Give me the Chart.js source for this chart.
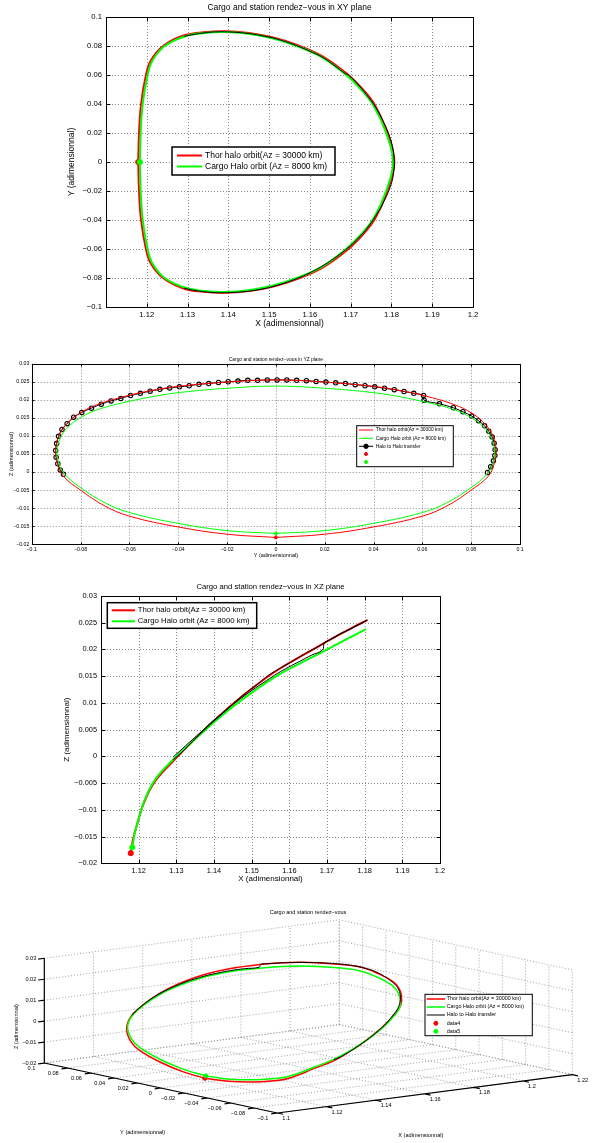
<!DOCTYPE html>
<html>
<head>
<meta charset="utf-8">
<title>Cargo and station rendez-vous</title>
<script src="https://cdn.jsdelivr.net/npm/chart.js@4.4.1/dist/chart.umd.min.js"></script>
<style>
  html, body { margin: 0; padding: 0; background: #fff; }
  body { position: relative; width: 592px; height: 1143px; overflow: hidden; }
  canvas { position: absolute; left: 0; }
</style>
</head>
<body>
<canvas id="xyPlot" width="592" height="334" style="top:0px"></canvas>
<canvas id="yzPlot" width="592" height="230" style="top:334px"></canvas>
<canvas id="xzPlot" width="592" height="322" style="top:564px"></canvas>
<canvas id="view3d" width="592" height="257" style="top:886px"></canvas>
<script>
const FONT = '"Liberation Sans", Arial, Helvetica, sans-serif';
Chart.defaults.font.family = FONT;
Chart.defaults.color = '#000';

// Thor halo orbit (Az = 30000 km), one revolution
const thorX = [1.1179, 1.1181, 1.1186, 1.1198, 1.1210, 1.1240, 1.1290, 1.1340, 1.1390, 1.1450, 1.1510, 1.1570, 1.1630, 1.1690, 1.1730, 1.1760, 1.1790, 1.1807,
  1.1790, 1.1760, 1.1730, 1.1690, 1.1630, 1.1570, 1.1510, 1.1450, 1.1390, 1.1340, 1.1290, 1.1240, 1.1210, 1.1198, 1.1186, 1.1181, 1.1179];
const thorY = [0, 0.0200, 0.0400, 0.0600, 0.0700, 0.0800, 0.0872, 0.0895, 0.0902, 0.0890, 0.0858, 0.0805, 0.0730, 0.0610, 0.0500, 0.0390, 0.0200, 0,
  -0.0200, -0.0390, -0.0500, -0.0610, -0.0730, -0.0805, -0.0858, -0.0890, -0.0902, -0.0895, -0.0872, -0.0800, -0.0700, -0.0600, -0.0400, -0.0200, 0];
const thorZ = [-0.0181, -0.0172, -0.0152, -0.0122, -0.0094, -0.0050, -0.0010, 0.0026, 0.0060, 0.0098, 0.0132, 0.0162, 0.0187, 0.0211, 0.0227, 0.0238, 0.0249, 0.0255,
  0.0249, 0.0238, 0.0227, 0.0211, 0.0187, 0.0162, 0.0132, 0.0098, 0.0060, 0.0026, -0.0010, -0.0050, -0.0094, -0.0122, -0.0152, -0.0172, -0.0181];

// Cargo halo orbit (Az = 8000 km)
const cargoX = [1.1183, 1.1185, 1.1190, 1.1202, 1.1214, 1.1244, 1.1293, 1.1342, 1.1390, 1.1450, 1.1510, 1.1568, 1.1628, 1.1687, 1.1727, 1.1757, 1.1787, 1.1804,
  1.1787, 1.1757, 1.1727, 1.1687, 1.1628, 1.1568, 1.1510, 1.1450, 1.1390, 1.1342, 1.1293, 1.1244, 1.1214, 1.1202, 1.1190, 1.1185, 1.1183];
const cargoY = [0, 0.0200, 0.0400, 0.0600, 0.0700, 0.0800, 0.0866, 0.0890, 0.0896, 0.0884, 0.0852, 0.0800, 0.0725, 0.0605, 0.0495, 0.0385, 0.0200, 0,
  -0.0200, -0.0385, -0.0495, -0.0605, -0.0725, -0.0800, -0.0852, -0.0884, -0.0896, -0.0890, -0.0866, -0.0800, -0.0700, -0.0600, -0.0400, -0.0200, 0];
const cargoZ = [-0.0170, -0.0162, -0.0142, -0.0112, -0.0085, -0.0043, -0.0005, 0.0027, 0.0058, 0.0093, 0.0124, 0.0151, 0.0174, 0.0195, 0.0210, 0.0221, 0.0232, 0.0238,
  0.0232, 0.0221, 0.0210, 0.0195, 0.0174, 0.0151, 0.0124, 0.0093, 0.0058, 0.0027, -0.0005, -0.0043, -0.0085, -0.0112, -0.0142, -0.0162, -0.0170];

// Halo to halo transfer (first part near the cargo orbit, then on Thor)
const transferX = [1.1292, 1.1317, 1.1342, 1.1366, 1.1390, 1.1420, 1.1450, 1.1480, 1.1510, 1.1540, 1.1568, 1.1598, 1.1628, 1.1658, 1.1688,
  1.1693, 1.1708, 1.1721, 1.1733, 1.1744, 1.1755, 1.1764, 1.1772, 1.1779, 1.1786, 1.1792, 1.1797, 1.1801, 1.1804, 1.1806, 1.1807,
  1.1807, 1.1805, 1.1803, 1.1799, 1.1794, 1.1788, 1.1781, 1.1774, 1.1765, 1.1756, 1.1746, 1.1735, 1.1722, 1.1708, 1.1692, 1.1674,
  1.1654, 1.1632, 1.1606, 1.1576, 1.1545, 1.1514, 1.1483, 1.1452, 1.1421, 1.1390, 1.1362, 1.1336, 1.1312, 1.1292];
const transferY = [0.0867, 0.0880, 0.0891, 0.0897, 0.0898, 0.0894, 0.0886, 0.0872, 0.0855, 0.0830, 0.0802, 0.0766, 0.0727, 0.0670, 0.0607,
  0.0605, 0.0565, 0.0525, 0.0485, 0.0445, 0.0405, 0.0365, 0.0325, 0.0285, 0.0245, 0.0205, 0.0165, 0.0125, 0.0085, 0.0045, 0.0005,
  -0.0035, -0.0075, -0.0115, -0.0155, -0.0195, -0.0235, -0.0275, -0.0315, -0.0355, -0.0395, -0.0435, -0.0475, -0.0515, -0.0555, -0.0595, -0.0635,
  -0.0675, -0.0715, -0.0755, -0.0795, -0.0828, -0.0855, -0.0876, -0.0890, -0.0898, -0.0902, -0.0900, -0.0893, -0.0883, -0.0870];
const transferZ = [-0.0001, 0.0015, 0.0031, 0.0046, 0.0062, 0.0080, 0.0097, 0.0113, 0.0128, 0.0142, 0.0155, 0.0167, 0.0178, 0.0189, 0.0199,
  0.0212, 0.0218, 0.0223, 0.0228, 0.0232, 0.0236, 0.0239, 0.0242, 0.0245, 0.0247, 0.0249, 0.0251, 0.0253, 0.0254, 0.0255, 0.0255,
  0.0255, 0.0254, 0.0254, 0.0252, 0.0250, 0.0248, 0.0245, 0.0243, 0.0239, 0.0236, 0.0233, 0.0229, 0.0224, 0.0218, 0.0212, 0.0204,
  0.0197, 0.0188, 0.0177, 0.0165, 0.0152, 0.0134, 0.0118, 0.0099, 0.0079, 0.0060, 0.0041, 0.0023, 0.0006, -0.0006];

// starting points [x, y, z]
const thorStart = [1.1179, 0, -0.0181];
const cargoStart = [1.1183, 0, -0.0170];

// ticks
const xTicks = [1.11, 1.12, 1.13, 1.14, 1.15, 1.16, 1.17, 1.18, 1.19, 1.2];
const xLabels = ['', '1.12', '1.13', '1.14', '1.15', '1.16', '1.17', '1.18', '1.19', '1.2'];
const yTicks = [-0.1, -0.08, -0.06, -0.04, -0.02, 0, 0.02, 0.04, 0.06, 0.08, 0.1];
const yLabels = ['\u22120.1', '\u22120.08', '\u22120.06', '\u22120.04', '\u22120.02', '0', '0.02', '0.04', '0.06', '0.08', '0.1'];
const zTicks = [-0.02, -0.015, -0.01, -0.005, 0, 0.005, 0.01, 0.015, 0.02, 0.025, 0.03];
const zLabels = ['\u22120.02', '\u22120.015', '\u22120.01', '\u22120.005', '0', '0.005', '0.01', '0.015', '0.02', '0.025', '0.03'];
const x3Ticks = [1.1, 1.12, 1.14, 1.16, 1.18, 1.2, 1.22];
const x3Labels = ['1.1', '1.12', '1.14', '1.16', '1.18', '1.2', '1.22'];
const y3Ticks = [0.1, 0.08, 0.06, 0.04, 0.02, 0, -0.02, -0.04, -0.06, -0.08, -0.1];
const y3Labels = ['0.1', '0.08', '0.06', '0.04', '0.02', '0', '\u22120.02', '\u22120.04', '\u22120.06', '\u22120.08', '\u22120.1'];
const z3Ticks = [-0.02, -0.01, 0, 0.01, 0.02, 0.03];
const z3Labels = ['\u22120.02', '\u22120.01', '0', '0.01', '0.02', '0.03'];

const thorLabel = 'Thor halo orbit(Az = 30000 km)';
const cargoLabel = 'Cargo Halo orbit (Az = 8000 km)';
const transferLabel = 'Halo to Halo transfer';
const RED = '#ff0000';
const GREEN = '#00ff00';

// 3D view (page pixels): corner x=1.1, y=0.1, z=-0.02 and one step per unit along each axis
const VIEW = { ox: 40, oy: 1065, x0: 1.1, y0: 0.1, z0: -0.02, ex: [2500, -333.3], ey: [-1185, -260], ez: [0, -2180] };
function project(X, Y, Z) {
  const dx = X - VIEW.x0, dy = Y - VIEW.y0, dz = Z - VIEW.z0;
  return {
    x: VIEW.ox + dx * VIEW.ex[0] + dy * VIEW.ey[0] + dz * VIEW.ez[0],
    y: VIEW.oy + dx * VIEW.ex[1] + dy * VIEW.ey[1] + dz * VIEW.ez[1]
  };
}

// dotted grid, box and inward ticks like the MATLAB axes
const matlabFrame = {
  id: 'matlabFrame',
  beforeDatasetsDraw(chart, args, o) {
    if (!o.on) return;
    const { ctx, chartArea: a, scales: { x, y } } = chart;
    ctx.save();
    ctx.strokeStyle = '#8a8a8a';
    ctx.lineWidth = 1;
    ctx.setLineDash([1, 2]);
    ctx.beginPath();
    x.ticks.forEach(t => {
      const px = Math.round(x.getPixelForValue(t.value)) + 0.5;
      ctx.moveTo(px, a.top); ctx.lineTo(px, a.bottom);
    });
    y.ticks.forEach(t => {
      const py = Math.round(y.getPixelForValue(t.value)) + 0.5;
      ctx.moveTo(a.left, py); ctx.lineTo(a.right, py);
    });
    ctx.stroke();
    ctx.restore();
  },
  afterDatasetsDraw(chart, args, o) {
    if (!o.on) return;
    const { ctx, chartArea: a, scales: { x, y } } = chart;
    const L = Math.round(a.left) + 0.5, R = Math.round(a.right) + 0.5;
    const T = Math.round(a.top) + 0.5, B = Math.round(a.bottom) + 0.5;
    ctx.save();
    ctx.strokeStyle = '#000';
    ctx.lineWidth = 1;
    ctx.setLineDash([]);
    ctx.beginPath();
    ctx.rect(L, T, R - L, B - T);
    x.ticks.forEach(t => {
      const px = Math.round(x.getPixelForValue(t.value)) + 0.5;
      ctx.moveTo(px, B); ctx.lineTo(px, B - o.tick);
      ctx.moveTo(px, T); ctx.lineTo(px, T + o.tick);
    });
    y.ticks.forEach(t => {
      const py = Math.round(y.getPixelForValue(t.value)) + 0.5;
      ctx.moveTo(L, py); ctx.lineTo(L + o.tick, py);
      ctx.moveTo(R, py); ctx.lineTo(R - o.tick, py);
    });
    ctx.stroke();
    ctx.restore();
  }
};

// plot title
const figTitle = {
  id: 'figTitle',
  afterDraw(chart, args, o) {
    if (!o.text) return;
    const { ctx, chartArea: a } = chart;
    ctx.save();
    ctx.font = `${o.size}px ${FONT}`;
    ctx.fillStyle = '#000';
    ctx.textAlign = 'center';
    ctx.textBaseline = 'middle';
    ctx.fillText(o.text, o.x != null ? o.x : (a.left + a.right) / 2, o.y);
    ctx.restore();
  }
};

// boxed legend placed inside the axes
const boxLegend = {
  id: 'boxLegend',
  afterDatasetsDraw(chart, args, o) {
    if (!o.items) return;
    const ctx = chart.ctx;
    ctx.save();
    ctx.fillStyle = '#fff';
    ctx.fillRect(o.left, o.top, o.width, o.height);
    ctx.strokeStyle = '#000';
    ctx.lineWidth = o.border;
    ctx.setLineDash([]);
    ctx.strokeRect(o.left, o.top, o.width, o.height);
    ctx.font = `${o.size}px ${FONT}`;
    ctx.textBaseline = 'middle';
    ctx.textAlign = 'left';
    o.items.forEach((di, k) => {
      const ds = chart.data.datasets[di];
      const yy = o.top + o.rows[k];
      const mid = (o.lineX0 + o.lineX1) / 2;
      if (ds.showLine) {
        ctx.strokeStyle = ds.borderColor;
        ctx.lineWidth = o.lineW || ds.borderWidth;
        ctx.beginPath();
        ctx.moveTo(o.lineX0, yy); ctx.lineTo(o.lineX1, yy);
        ctx.stroke();
      }
      if (ds.pointRadius > 0) {
        ctx.beginPath();
        ctx.arc(mid, yy, ds.pointRadius, 0, Math.PI * 2);
        ctx.fillStyle = ds.showLine ? '#000' : ds.backgroundColor;
        ctx.fill();
        ctx.strokeStyle = ds.pointBorderColor || ds.borderColor;
        ctx.lineWidth = 1;
        ctx.stroke();
      }
      ctx.fillStyle = '#000';
      ctx.fillText(ds.label, o.textX, yy);
    });
    ctx.restore();
  }
};

// 3D box: back walls, floor grid, axes, ticks and labels
const box3d = {
  id: 'box3d',
  beforeDatasetsDraw(chart, args, o) {
    if (!o.on) return;
    const { ctx, scales: { x: sx, y: sy } } = chart;
    const P = (X, Y, Z) => { const p = project(X, Y, Z); return [sx.getPixelForValue(p.x), sy.getPixelForValue(p.y)]; };
    const seg = (p, q) => { ctx.moveTo(p[0], p[1]); ctx.lineTo(q[0], q[1]); };
    const xMin = x3Ticks[0], xMax = x3Ticks[x3Ticks.length - 1];
    const yMax = y3Ticks[0], yMin = y3Ticks[y3Ticks.length - 1];
    const zMin = z3Ticks[0], zMax = z3Ticks[z3Ticks.length - 1];
    ctx.save();
    ctx.strokeStyle = '#8a8a8a';
    ctx.lineWidth = 0.8;
    ctx.setLineDash([1, 2]);
    ctx.beginPath();
    z3Ticks.forEach(z => { seg(P(xMin, yMax, z), P(xMax, yMax, z)); seg(P(xMax, yMax, z), P(xMax, yMin, z)); });
    x3Ticks.forEach(x => { seg(P(x, yMax, zMin), P(x, yMax, zMax)); seg(P(x, yMax, zMin), P(x, yMin, zMin)); });
    y3Ticks.forEach(y => { seg(P(xMax, y, zMin), P(xMax, y, zMax)); seg(P(xMin, y, zMin), P(xMax, y, zMin)); });
    ctx.stroke();

    ctx.setLineDash([]);
    ctx.strokeStyle = '#000';
    ctx.lineWidth = 1.2;
    ctx.beginPath();
    seg(P(xMin, yMax, zMin), P(xMin, yMax, zMax));
    seg(P(xMin, yMax, zMin), P(xMin, yMin, zMin));
    seg(P(xMin, yMin, zMin), P(xMax, yMin, zMin));
    z3Ticks.forEach(z => seg(P(xMin, yMax, z), P(xMin - 0.0025, yMax, z)));
    y3Ticks.forEach(y => seg(P(xMin, y, zMin), P(xMin - 0.0025, y, zMin)));
    x3Ticks.forEach(x => seg(P(x, yMin, zMin), P(x, yMin - 0.005, zMin)));
    ctx.stroke();

    ctx.fillStyle = '#000';
    ctx.font = `${o.size}px ${FONT}`;
    ctx.textBaseline = 'middle';
    ctx.textAlign = 'right';
    z3Ticks.forEach((z, i) => { const p = P(xMin, yMax, z); ctx.fillText(z3Labels[i], p[0] - 8, p[1]); });
    y3Ticks.forEach((y, i) => { const p = P(xMin, y, zMin); ctx.fillText(y3Labels[i], p[0] - 9, p[1] + 5); });
    ctx.textAlign = 'left';
    x3Ticks.forEach((x, i) => { const p = P(x, yMin, zMin); ctx.fillText(x3Labels[i], p[0] + 5, p[1] + 5.5); });

    ctx.textAlign = 'center';
    o.names.forEach(n => {
      ctx.save();
      ctx.translate(sx.getPixelForValue(n.x), sy.getPixelForValue(n.y));
      if (n.rot) ctx.rotate(n.rot);
      ctx.fillText(n.text, 0, 0);
      ctx.restore();
    });
    ctx.restore();
  }
};

Chart.register(matlabFrame, figTitle, boxLegend, box3d);

function pairs(a, b) { return a.map((v, i) => ({ x: v, y: b[i] })); }

const AXES = {
  X: { thor: thorX, cargo: cargoX, transfer: transferX, k: 0 },
  Y: { thor: thorY, cargo: cargoY, transfer: transferY, k: 1 },
  Z: { thor: thorZ, cargo: cargoZ, transfer: transferZ, k: 2 }
};

function planeDatasets(hKey, vKey, st) {
  const H = AXES[hKey], V = AXES[vKey];
  return [
    { label: thorLabel, data: pairs(H.thor, V.thor), showLine: true, borderColor: RED, borderWidth: st.orbitW,
      pointRadius: 0, tension: 0.4, order: 5 },
    { label: cargoLabel, data: pairs(H.cargo, V.cargo), showLine: true, borderColor: GREEN, borderWidth: st.orbitW,
      pointRadius: 0, tension: 0.4, order: 4 },
    { label: transferLabel, data: pairs(H.transfer, V.transfer), showLine: true, borderColor: '#000', borderWidth: 1,
      pointRadius: st.beads, pointBorderColor: '#000', pointBackgroundColor: 'rgba(0,0,0,0)', pointBorderWidth: 1.1,
      tension: 0.4, order: st.transferOrder },
    { label: st.dotLabels[0], data: [{ x: thorStart[H.k], y: thorStart[V.k] }], showLine: false,
      pointRadius: st.dotR, backgroundColor: RED, borderColor: RED, order: 2 },
    { label: st.dotLabels[1], data: [{ x: cargoStart[H.k], y: cargoStart[V.k] }], showLine: false,
      pointRadius: st.dotR, backgroundColor: GREEN, borderColor: GREEN, order: 1 }
  ];
}

function planeOptions(c) {
  return {
    responsive: false,
    animation: false,
    events: [],
    layout: { padding: { left: c.padL, right: c.padR, top: c.padT, bottom: c.padB } },
    scales: {
      x: {
        type: 'linear', min: c.xTicks[0], max: c.xTicks[c.xTicks.length - 1],
        afterBuildTicks: s => { s.ticks = c.xTicks.map(v => ({ value: v })); },
        afterFit: s => { s.height = c.xH; },
        grid: { display: false, drawTicks: false }, border: { display: false },
        ticks: { autoSkip: false, maxRotation: 0, minRotation: 0, padding: c.xPad, font: { size: c.tickSize },
          callback: (v, i) => c.xLabels[i] },
        title: { display: true, text: c.xTitle, padding: 0, font: { size: c.nameSize } }
      },
      y: {
        type: 'linear', min: c.yTicks[0], max: c.yTicks[c.yTicks.length - 1],
        afterBuildTicks: s => { s.ticks = c.yTicks.map(v => ({ value: v })); },
        afterFit: s => { s.width = c.yW; },
        grid: { display: false, drawTicks: false }, border: { display: false },
        ticks: { autoSkip: false, padding: c.yPad, font: { size: c.tickSize },
          callback: (v, i) => c.yLabels[i] },
        title: { display: true, text: c.yTitle, padding: 0, font: { size: c.nameSize } }
      }
    },
    plugins: {
      legend: { display: false },
      tooltip: { enabled: false },
      matlabFrame: { on: true, tick: c.tick },
      figTitle: { text: c.title, y: c.titleY, size: c.titleSize },
      boxLegend: c.legend
    }
  };
}

// XY plane
new Chart(document.getElementById('xyPlot'), {
  type: 'scatter',
  data: { datasets: planeDatasets('X', 'Y', { orbitW: 2, beads: 0, transferOrder: 3, dotR: 2.6, dotLabels: ['data4', 'data5'] }) },
  options: planeOptions({
    padL: 66.9, padR: 119, padT: 17, padB: 5.4, xH: 21.6, yW: 39.1,
    xTicks, xLabels, yTicks, yLabels, xPad: 3.5, yPad: 4, tickSize: 7.7, nameSize: 8.5, tick: 4,
    xTitle: 'X (adimensionnal)', yTitle: 'Y (adimensionnal)',
    title: 'Cargo and station rendez\u2212vous in XY plane', titleY: 8, titleSize: 8.5,
    legend: { items: [0, 1], left: 172, top: 147, width: 163, height: 28, rows: [8.5, 19.5],
      lineX0: 177, lineX1: 202, textX: 205, size: 8.5, border: 1.5, lineW: 2 }
  })
});

// YZ plane (transfer beads drawn under the Thor orbit)
new Chart(document.getElementById('yzPlot'), {
  type: 'scatter',
  data: { datasets: planeDatasets('Y', 'Z', { orbitW: 1, beads: 2.2, transferOrder: 6, dotR: 1.5, dotLabels: ['', ''] }) },
  options: planeOptions({
    padL: 7.7, padR: 72, padT: 29.7, padB: 5.7, xH: 14, yW: 24,
    xTicks: yTicks, xLabels: yLabels, yTicks: zTicks, yLabels: zLabels, xPad: 2, yPad: 2.4, tickSize: 5.2, nameSize: 5.5, tick: 2,
    xTitle: 'Y (adimensionnal)', yTitle: 'Z (adimensionnal)',
    title: 'Cargo and station rendez\u2212vous in YZ plane', titleY: 25.3, titleSize: 4.9,
    legend: { items: [0, 1, 2, 3, 4], left: 356.7, top: 91.7, width: 96.6, height: 41, rows: [4.3, 12.6, 20.6, 28.3, 36.3],
      lineX0: 359, lineX1: 373, textX: 375.7, size: 4.9, border: 1 }
  })
});

// XZ plane
new Chart(document.getElementById('xzPlot'), {
  type: 'scatter',
  data: { datasets: planeDatasets('X', 'Z', { orbitW: 2, beads: 0, transferOrder: 3, dotR: 2.6, dotLabels: ['data4', 'data5'] }) },
  options: planeOptions({
    padL: 62.2, padR: 152, padT: 32, padB: 2.9, xH: 19.8, yW: 38.8,
    xTicks, xLabels, yTicks: zTicks, yLabels: zLabels, xPad: 3, yPad: 4, tickSize: 7.4, nameSize: 8, tick: 4,
    xTitle: 'X (adimensionnal)', yTitle: 'Z (adimensionnal)',
    title: 'Cargo and station rendez\u2212vous in XZ plane', titleY: 23, titleSize: 7.7,
    legend: { items: [0, 1], left: 107.3, top: 38.7, width: 149.4, height: 25.6, rows: [7.6, 18.6],
      lineX0: 111.7, lineX1: 135, textX: 137.7, size: 7.8, border: 1.5, lineW: 2 }
  })
});

// 3D view, every point goes through project() and then the chart scales
function projected(xs, ys, zs) {
  return xs.map((v, i) => project(v, ys[i], zs[i]));
}
new Chart(document.getElementById('view3d'), {
  type: 'scatter',
  data: {
    datasets: [
      { label: thorLabel, data: projected(thorX, thorY, thorZ), showLine: true, borderColor: RED, borderWidth: 1.5,
        pointRadius: 0, tension: 0.4, order: 5 },
      { label: cargoLabel, data: projected(cargoX, cargoY, cargoZ), showLine: true, borderColor: GREEN, borderWidth: 1.5,
        pointRadius: 0, tension: 0.4, order: 4 },
      { label: transferLabel, data: projected(transferX, transferY, transferZ), showLine: true, borderColor: '#000', borderWidth: 1,
        pointRadius: 0, tension: 0.4, order: 3 },
      { label: 'data4', data: [project(thorStart[0], thorStart[1], thorStart[2])], showLine: false,
        pointRadius: 2, backgroundColor: RED, borderColor: RED, order: 2 },
      { label: 'data5', data: [project(cargoStart[0], cargoStart[1], cargoStart[2])], showLine: false,
        pointRadius: 2, backgroundColor: GREEN, borderColor: GREEN, order: 1 }
    ]
  },
  options: {
    responsive: false,
    animation: false,
    events: [],
    layout: { padding: 0 },
    scales: {
      x: { type: 'linear', display: false, min: 0, max: 592 },
      y: { type: 'linear', display: false, min: 886, max: 1143, reverse: true }
    },
    plugins: {
      legend: { display: false },
      tooltip: { enabled: false },
      box3d: {
        on: true, size: 5.6,
        names: [
          { text: 'Z (adimensionnal)', x: 12, y: 1027, rot: -Math.PI / 2 },
          { text: 'Y (adimensionnal)', x: 140, y: 1137 },
          { text: 'X (adimensionnal)', x: 423, y: 1140 }
        ]
      },
      figTitle: { text: 'Cargo and station rendez\u2212vous', x: 308, y: 26, size: 5.5 },
      boxLegend: { items: [0, 1, 2, 3, 4], left: 425, top: 108.3, width: 107.3, height: 41.4, rows: [4.7, 12.7, 20.7, 29, 37],
        lineX0: 426.7, lineX1: 445, textX: 446.7, size: 5.4, border: 1 }
    }
  }
});
</script>
</body>
</html>
